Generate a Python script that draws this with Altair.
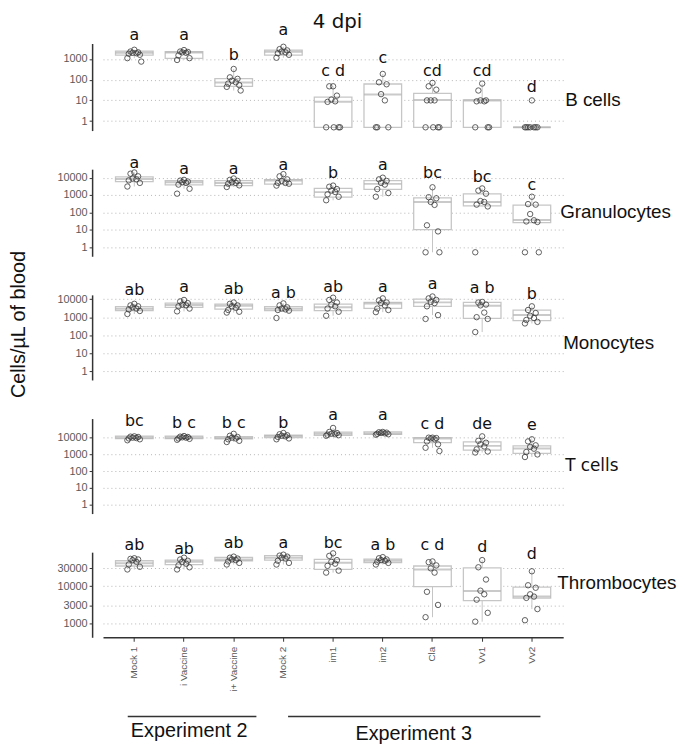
import math
import numpy as np
import pandas as pd
import altair as alt

groups = ["Mock 1", "i Vaccine", "i+ Vaccine", "Mock 2", "im1", "im2", "Cla", "Vv1", "Vv2"]

# ---------------- B cells ----------------
b_pts = [
    [2800, 2300, 2100, 2000, 1900, 1800, 1600, 1100, 750],
    [2700, 2300, 2200, 2100, 2000, 1500, 1100, 900],
    [330, 130, 110, 90, 75, 65, 55, 45, 30],
    [3900, 3000, 2600, 2300, 2100, 1900, 1600, 1150],
    [48, 48, 17, 11, 9, 8.5, 0.5, 0.5, 0.5, 0.5],
    [190, 75, 60, 20, 10, 0.5, 0.5, 0.5],
    [70, 48, 33, 10, 10, 10, 0.5, 0.5, 0.5, 0.5],
    [65, 30, 10, 10, 9, 9, 0.5, 0.5, 0.5],
    [10, 0.5, 0.5, 0.5, 0.5, 0.5, 0.5, 0.5],
]
b_q1 = [1550, 1075, 48, 1550, 0.5, 0.5, 0.5, 0.5, 0.5]
b_med = [2000, 2080, 74, 2240, 8.5, 19.5, 10.5, 10, 0.5]
b_q3 = [2400, 2240, 112, 2700, 14.5, 62, 22, 10.5, 0.5]
b_let = ["a", "a", "b", "a", "c d", "c", "cd", "cd", "d"]
b_lpos = [13800, 13800, 1550, 25000, 250, 1070, 250, 250, 45]

# ---------------- Granulocytes ----------------
g_pts = [
    [20000, 17000, 12000, 9000, 8000, 7000, 5000, 3100],
    [7500, 6800, 6000, 5500, 5000, 4000, 2300, 1200],
    [9000, 7500, 6500, 5500, 5000, 4500, 3600, 2900],
    [16000, 12000, 8000, 6500, 5000, 5000, 4500, 3500],
    [3500, 3000, 2200, 1800, 1500, 1100, 800, 500],
    [10000, 8000, 6500, 5000, 4000, 2200, 1300, 800],
    [2800, 750, 650, 400, 270, 18, 8, 0.5, 0.5],
    [2400, 1800, 1200, 450, 400, 280, 220, 0.5],
    [800, 300, 280, 80, 35, 30, 28, 0.5, 0.5],
]
g_q1 = [5900, 3800, 3500, 4200, 760, 2100, 10, 235, 26]
g_med = [8400, 5400, 5000, 6800, 1470, 4400, 400, 400, 36]
g_q3 = [11000, 6800, 6800, 7700, 2450, 6800, 680, 1180, 260]
g_let = ["a", "a", "a", "a", "b", "a", "bc", "bc", "c"]
g_lpos = [70000, 32000, 32000, 56000, 18000, 56000, 18000, 11000, 4000]

# ---------------- Monocytes ----------------
m_pts = [
    [5500, 4500, 4000, 3500, 3000, 2700, 2200, 1500],
    [9000, 7500, 6000, 5000, 4500, 4000, 3000, 2100],
    [6500, 5500, 4500, 4000, 3300, 2500, 2000, 1800],
    [5800, 4500, 3500, 3000, 2700, 2500, 2300, 900],
    [12000, 9000, 6500, 5000, 4000, 3000, 2000, 1200],
    [11000, 8500, 6500, 6000, 4500, 3000, 2500, 1900],
    [14000, 11000, 9000, 7000, 6000, 4000, 1300, 800],
    [7000, 6500, 5000, 4500, 1800, 1000, 800, 150],
    [4000, 2500, 1700, 1200, 900, 700, 550, 450],
]
m_q1 = [2300, 3500, 2800, 2300, 2300, 3100, 4000, 870, 650]
m_med = [2940, 4700, 4300, 2900, 3500, 5800, 6600, 4300, 1310]
m_q3 = [3800, 6000, 5300, 3800, 5300, 6600, 10000, 6600, 2470]
m_let = ["ab", "a", "ab", "a b", "ab", "a", "a", "a b", "b"]
m_lpos = [31600, 47900, 35500, 20400, 47900, 47900, 72400, 43600, 19000]

# ---------------- T cells ----------------
t_pts = [
    [12000, 11500, 11000, 10000, 9500, 9000, 8000, 7000],
    [12500, 11500, 11000, 10500, 10000, 9000, 8500, 7500],
    [17000, 13000, 11000, 10000, 9000, 8000, 6500, 5500],
    [19000, 16000, 14000, 13000, 12000, 11000, 9000, 8000],
    [38000, 22000, 19000, 17000, 16000, 15000, 14000, 13000],
    [22000, 21000, 20000, 19000, 18000, 17000, 16000, 15000],
    [10000, 10000, 9500, 9000, 8000, 6000, 4000, 2500, 1600],
    [12000, 6500, 5000, 4000, 3000, 2000, 1500, 1300],
    [8000, 6000, 3500, 2800, 2200, 1400, 1000, 700],
]
t_q1 = [8800, 8800, 8400, 10000, 13700, 15700, 5100, 1800, 1150]
t_med = [10400, 10400, 9600, 12500, 17000, 18000, 8800, 3240, 2250]
t_q3 = [12500, 12500, 11500, 14400, 21600, 22500, 10000, 5600, 3240]
t_let = ["bc", "b c", "b c", "b", "a", "a", "c d", "de", "e"]
t_lpos = [95000, 76000, 76000, 76000, 234000, 234000, 69000, 69000, 60000]

# ---------------- Thrombocytes ----------------
th_pts = [
    [56000, 54000, 52000, 50000, 45000, 38000, 33000, 28000],
    [58000, 52000, 48000, 45000, 40000, 36000, 32000, 28000],
    [62000, 58000, 55000, 52000, 50000, 46000, 42000, 38000],
    [70000, 66000, 62000, 58000, 55000, 48000, 42000, 38000],
    [76000, 65000, 50000, 45000, 40000, 35000, 26000, 23000],
    [60000, 56000, 52000, 50000, 48000, 45000, 42000, 38000],
    [46000, 44000, 36000, 30000, 23000, 7000, 3100, 1450],
    [50000, 32000, 15000, 7500, 6000, 4300, 1900, 1100],
    [25000, 10500, 9000, 6000, 5200, 4800, 2400, 1200],
]
th_q1 = [34700, 38000, 48000, 50000, 28000, 43000, 9700, 4060, 4700]
th_med = [41000, 45000, 52000, 58000, 42500, 48000, 28000, 7400, 5200]
th_q3 = [48000, 50000, 59000, 66000, 52000, 53000, 34700, 31000, 9300]
th_let = ["ab", "ab", "ab", "a", "bc", "a b", "c d", "d", "d"]
th_lpos = [126000, 98000, 141000, 141000, 141000, 126000, 126000, 115000, 72000]

jitter = [0.0, -0.55, 0.55, -0.25, 0.3, -0.8, 0.8, -1.0, 1.0, 0.1]

W = 465
BOX_W = 38
PAD_OUT = 0.13
STEP = W / (len(groups) + 2 * PAD_OUT)
JIT = 7
FONT_AX = "Liberation Sans"

x_scale = alt.Scale(domain=groups, paddingInner=0, paddingOuter=PAD_OUT)


def whisk(pts, q1, q3):
    lq1, lq3 = math.log10(q1), math.log10(q3)
    iqr = lq3 - lq1
    lo_f, hi_f = lq1 - 1.5 * iqr, lq3 + 1.5 * iqr
    inside = [p for p in pts if lo_f - 1e-9 <= math.log10(p) <= hi_f + 1e-9]
    return min(min(inside), q1), max(max(inside), q3)


def panel(pts, q1, med, q3, lets, lpos, domain, ticks, height, show_x=False):
    rows = []
    for g, plist in zip(groups, pts):
        for i, v in enumerate(plist):
            rows.append({"group": g, "value": v, "jit": jitter[i % len(jitter)]})
    dp = pd.DataFrame(rows)
    lo, hi = zip(*[whisk(p, a, b) for p, a, b in zip(pts, q1, q3)])
    db = pd.DataFrame({"group": groups, "q1": q1, "med": med, "q3": q3,
                       "lo": lo, "hi": hi, "letter": lets, "lpos": lpos})

    if show_x:
        xaxis = alt.Axis(title=None, labelAngle=270, labelAlign="right", labelBaseline="middle",
                         labelFontSize=10, labelColor="#5a5a5a", labelFont=FONT_AX,
                         domainColor="#333333", domainWidth=1.5, tickColor="#333333",
                         tickSize=4, labelPadding=5, grid=False)
    else:
        xaxis = None
    X = alt.X("group:N", sort=groups, scale=x_scale, axis=xaxis)
    ysc = alt.Scale(type="log", domain=domain, nice=False)
    yaxis = alt.Axis(title=None, values=ticks, format="d", offset=11,
                     domainColor="#333333", domainWidth=1.5, tickColor="#333333",
                     tickSize=3, labelColor="#5a5a5a", labelFontSize=11, labelFont=FONT_AX,
                     labelPadding=2, grid=True, gridColor="#b5b5b5", gridDash=[1, 3],
                     gridWidth=1)

    def Y(f):
        return alt.Y(f"{f}:Q", scale=ysc, axis=yaxis)

    base = alt.Chart(db)
    wh = base.mark_rule(color="#c4c4c4", strokeWidth=1).encode(x=X, y=Y("lo"), y2="hi:Q")
    box = base.mark_bar(size=BOX_W, fill="white", stroke="#c6c6c6", strokeWidth=1.3).encode(
        x=X, y=Y("q1"), y2="q3:Q")
    md = base.mark_tick(size=BOX_W, thickness=2, color="#b3b3b3", orient="horizontal").encode(
        x=X, y=Y("med"))
    pt = alt.Chart(dp).mark_point(shape="circle", size=30, filled=False, stroke="#3c3c3c",
                                  strokeWidth=0.9, opacity=0.9).encode(
        x=X,
        xOffset=alt.XOffset("jit:Q", scale=alt.Scale(domain=[-1, 1],
                                                     range=[STEP / 2 - JIT, STEP / 2 + JIT])),
        y=Y("value"))
    tx = base.mark_text(font="DejaVu Sans", fontSize=16, baseline="middle", color="#111111").encode(
        x=X, y=Y("lpos"), text="letter:N")
    return [wh, box, md, pt, tx]


def label(text, x, y, font="Liberation Sans", size=19, angle=0, align="left", baseline="middle"):
    kw = dict(font=font, fontSize=size, align=align, baseline=baseline, color="#111111")
    if angle:
        kw["angle"] = angle
    return alt.Chart(pd.DataFrame({"t": [text]})).mark_text(**kw).encode(
        text="t:N", x=alt.value(x), y=alt.value(y))


def hline(x1, x2, y):
    return alt.Chart(pd.DataFrame({"t": [0]})).mark_rule(color="#333333", strokeWidth=1.5).encode(
        x=alt.value(x1), x2=alt.value(x2), y=alt.value(y))


H1, H2, H3, H4, H5 = 88, 88, 86, 96, 86
dec = [1, 10, 100, 1000, 10000]

r1 = alt.layer(*panel(b_pts, b_q1, b_med, b_q3, b_let, b_lpos, [0.347, 5620], [1, 10, 100, 1000], H1),
               label("B cells", 467, 57),
               label("4 dpi", 237, -16, font="DejaVu Sans", size=20, align="center",
                     baseline="alphabetic")).properties(width=W, height=H1)
r2 = alt.layer(*panel(g_pts, g_q1, g_med, g_q3, g_let, g_lpos, [0.295, 30900], dec, H2),
               label("Granulocytes", 462, 43)).properties(width=W, height=H2)
r3 = alt.layer(*panel(m_pts, m_q1, m_med, m_q3, m_let, m_lpos, [0.333, 17200], dec, H3),
               label("Monocytes", 465, 49),
               label("Cells/µL of blood", -85, 30, size=20, angle=270, align="center")
               ).properties(width=W, height=H3)
r4 = alt.layer(*panel(t_pts, t_q1, t_med, t_q3, t_let, t_lpos, [0.295, 138000], dec, H4),
               label("T cells", 467, 48, font="DejaVu Sans", size=17)).properties(width=W, height=H4)
r5 = alt.layer(*panel(th_pts, th_q1, th_med, th_q3, th_let, th_lpos, [417, 81700],
                      [1000, 3000, 10000, 30000], H5, show_x=True),
               label("Thrombocytes", 459, 31),
               hline(25, 155, 166), hline(187, 442, 166),
               label("Experiment 2", 87, 187, size=20, align="center", baseline="alphabetic"),
               label("Experiment 3", 314, 190, size=20, align="center", baseline="alphabetic"),
               ).properties(width=W, height=H5)

chart = alt.vconcat(r1, r2, r3, r4, r5, spacing=39, bounds="flush").resolve_scale(
    y="independent").properties(
    padding={"left": 0, "top": 0, "right": 0, "bottom": 0}, background="white"
).configure_view(stroke=None)

chart.save("out.html", embed_options={"renderer": "svg", "actions": False})
